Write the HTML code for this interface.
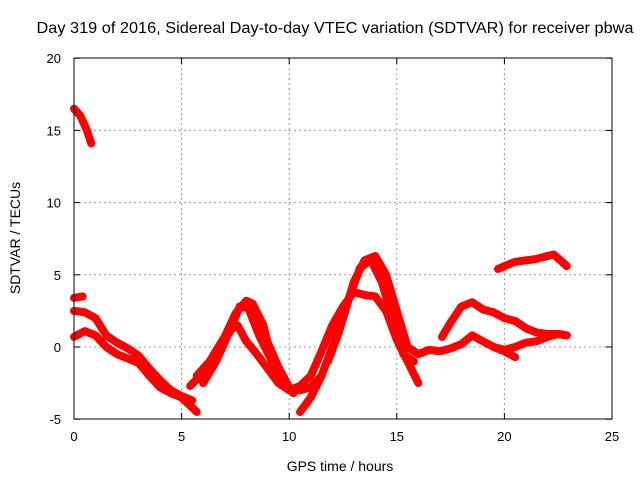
<!DOCTYPE html>
<html><head><meta charset="utf-8"><style>
body{margin:0;background:#fff;}
svg{display:block;font-family:"Liberation Sans",sans-serif;}
</style></head><body>
<svg id="chart" width="640" height="480">
<text x="335" y="33" font-size="16" text-anchor="middle" textLength="597" lengthAdjust="spacingAndGlyphs">Day 319 of 2016, Sidereal Day-to-day VTEC variation (SDTVAR) for receiver pbwa</text>
<text transform="translate(20,238) rotate(-90)" font-size="14" text-anchor="middle">SDTVAR / TECUs</text>
<text x="340" y="471" font-size="14" text-anchor="middle">GPS time / hours</text>
<g id="grid"></g><g id="series"></g>
<rect x="74" y="58" width="538" height="361" fill="none" stroke="#000" stroke-width="1"/>
</svg>
<script>
const xTicks=[0,5,10,15,20,25];
const yTicks=[-5,0,5,10,15,20];
const seriesA=[[0,16.5],[0.3,16],[0.6,15],[0.8,14.1]];
const seriesB=[[0,3.4],[0.4,3.5]];
const seriesC=[[0,2.5],[0.5,2.4],[1,2],[1.5,0.8],[2,0.3],[2.5,-0.1],[3,-0.6],[3.5,-1.5],[4,-2.3],[4.5,-3],[5,-3.4],[5.5,-3.7]];
const seriesD=[[0,0.7],[0.5,1.1],[1,0.8],[1.5,0],[2,-0.5],[2.5,-0.8],[3,-1.1],[3.5,-2],[4,-2.8],[4.5,-3.2],[5,-3.5],[5.5,-4.2],[5.7,-4.5]];
const seriesE=[[5.4,-2.7],[6,-1.8],[6.5,-0.5],[7,0.7],[7.5,2.3],[8,3.2],[8.3,3],[8.8,1.5],[9,0.3],[9.5,-1.4],[10,-2.8],[10.5,-3],[11,-2.8],[11.5,-2],[12,0],[12.5,2],[13,4.5],[13.5,6],[14,6.3],[14.5,5],[15,2.5],[15.5,0],[16,-0.5],[16.5,-0.2],[17,-0.3],[17.5,-0.1],[18,0.2],[18.5,0.8],[19,0.4],[19.5,0],[20,-0.2],[20.5,0],[21,0.3],[21.5,0.4],[22,0.7],[22.5,0.9],[22.9,0.8]];
const seriesF=[[5.7,-2],[6.3,-1],[7,0.5],[7.3,1.2],[7.6,1.5],[8,0.4],[8.5,-0.5],[9,-1.5],[9.5,-2.5],[10,-3],[10.5,-2.7],[11,-2],[11.5,-0.3],[12,1.5],[12.5,2.8],[13,3.8],[13.5,3.6],[14,3.5],[14.5,2.5],[15,0.5],[15.5,-1],[16,-2.5]];
const seriesG=[[10.5,-4.5],[11,-3.5],[11.5,-2]];
const seriesH=[[17.1,0.7],[17.5,1.7],[18,2.8],[18.5,3.1],[19,2.6],[19.5,2.4],[20,2],[20.5,1.8],[21,1.3],[21.5,1],[22,0.9],[22.5,0.9],[22.9,0.8]];
const seriesI=[[19.7,5.4],[20,5.6],[20.5,5.9],[21,6],[21.5,6.1],[22,6.3],[22.3,6.4],[22.6,6],[22.9,5.6]];
const seriesJ=[[19.5,0],[20,-0.3],[20.5,-0.7]];
const seriesK=[[11.8,-1],[12.3,1],[12.8,3.5],[13.3,5.5],[13.8,6],[14.3,4.5],[14.8,2],[15.3,-0.5],[15.8,-1]];
const seriesL=[[6,-2.5],[6.6,-1],[7.2,1],[7.7,2.8],[8.1,2.7],[8.6,0.8],[9.2,-1],[9.7,-2.6],[10.2,-3.2]];
const allSeries=[seriesA,seriesB,seriesC,seriesD,seriesE,seriesF,seriesG,seriesH,seriesI,seriesJ,seriesK,seriesL];
const names=['trace-a','trace-b','trace-c','trace-d','trace-e','trace-f','trace-g','trace-h','trace-i','trace-j','trace-k','trace-l'];
const NS='http://www.w3.org/2000/svg';
const X=h=>74+h*538/25, Y=v=>347-v*361/25;
const grid=document.getElementById('grid'), ser=document.getElementById('series'), svg=document.getElementById('chart');
function mk(t,a,p){const e=document.createElementNS(NS,t);for(const k in a)e.setAttribute(k,a[k]);p.appendChild(e);return e;}
xTicks.forEach(t=>{const x=X(t);
 if(t>0&&t<25){const l=mk('line',{x1:x,x2:x,y1:58,y2:419,stroke:'#999','stroke-dasharray':'2,3'},grid);
 
 }
 const tx=mk('text',{x:x,y:441,'font-size':13,'text-anchor':'middle'},svg);tx.textContent=t;
 
 
 mk('line',{x1:x,x2:x,y1:419,y2:413,stroke:'#000'},svg);mk('line',{x1:x,x2:x,y1:58,y2:64,stroke:'#000'},svg);});
yTicks.forEach(t=>{const y=Y(t);
 if(t>-5&&t<20){const l=mk('line',{x1:74,x2:612,y1:y,y2:y,stroke:'#999','stroke-dasharray':'2,3'},grid);
 
 }
 const tx=mk('text',{x:61,y:y+5,'font-size':13,'text-anchor':'end'},svg);tx.textContent=t;
 
 
 mk('line',{x1:74,x2:80,y1:y,y2:y,stroke:'#000'},svg);mk('line',{x1:612,x2:606,y1:y,y2:y,stroke:'#000'},svg);});
allSeries.forEach((s,i)=>{const p=mk('polyline',{points:s.map(d=>X(d[0])+','+Y(d[1])).join(' '),fill:'none',stroke:'#f00','stroke-width':8,'stroke-linejoin':'round','stroke-linecap':'round'},ser);
 
 });
</script>
</body></html>
